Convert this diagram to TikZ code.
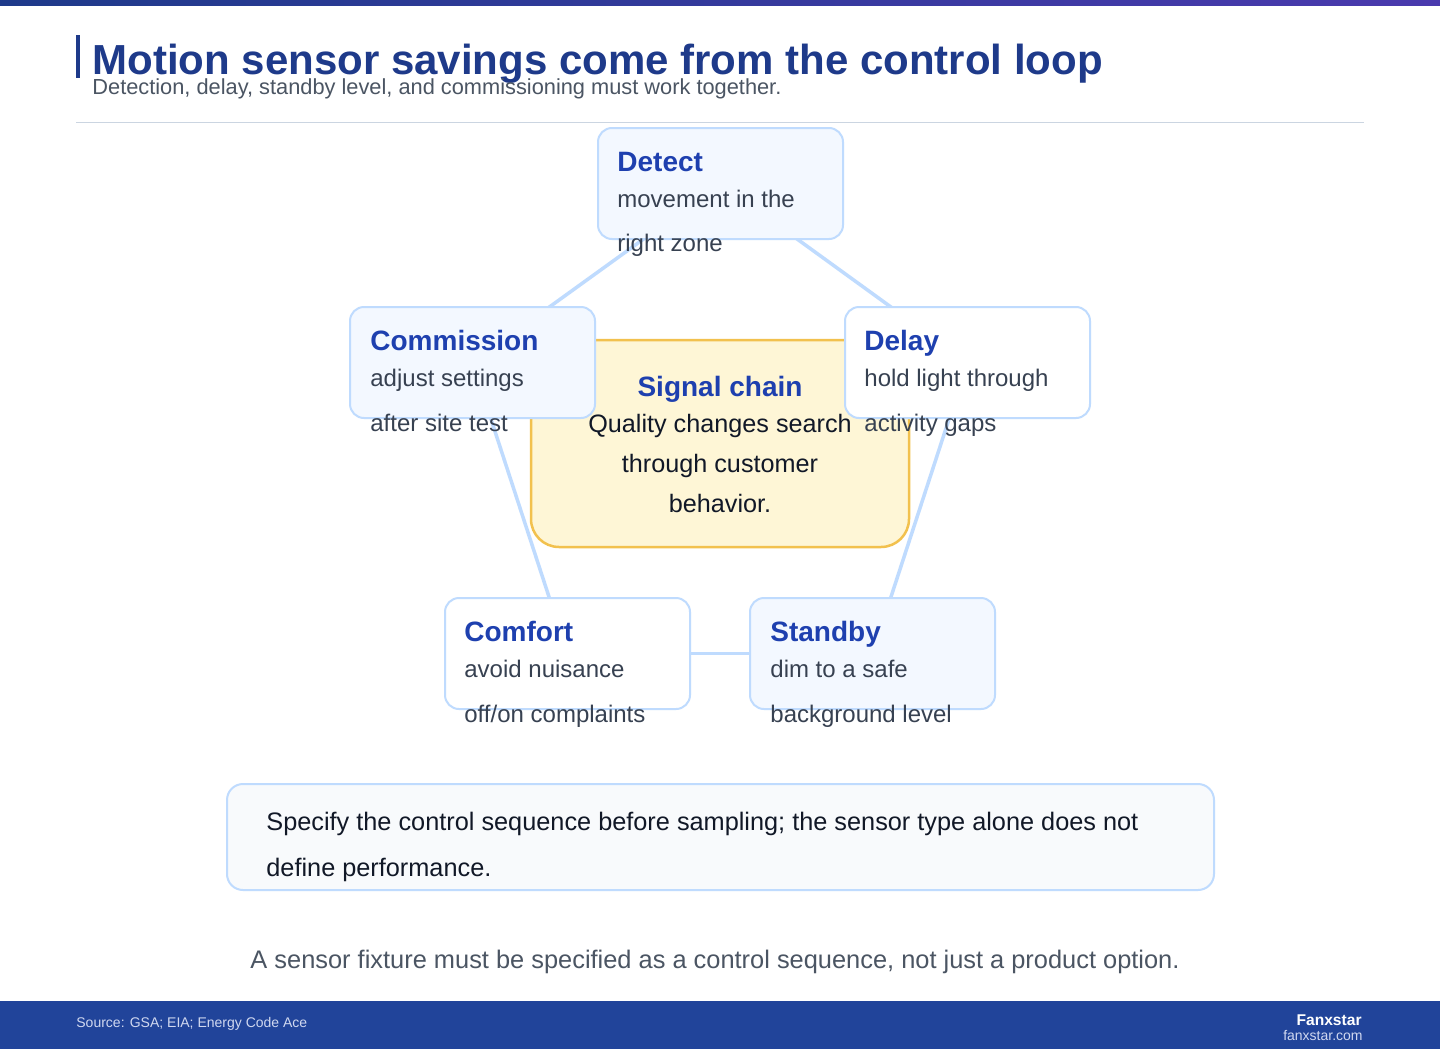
\documentclass[tikz,border=0pt]{standalone}
\usepackage{fontspec}
\setmainfont{Liberation Sans}
\usetikzlibrary{backgrounds}

\definecolor{navy}{HTML}{1E3A8A}
\definecolor{headblue}{HTML}{1E40AF}
\definecolor{bodygray}{HTML}{374151}
\definecolor{inkdark}{HTML}{111827}
\definecolor{edgeblue}{HTML}{BFDBFE}
\definecolor{paleblue}{HTML}{F3F8FF}
\definecolor{paleyellow}{HTML}{FEF6D6}
\definecolor{gold}{HTML}{F2C14E}
\definecolor{rulegray}{HTML}{CBD5E1}
\definecolor{notefill}{HTML}{F8FAFC}
\definecolor{capgray}{HTML}{4B5563}
\definecolor{footblue}{HTML}{21449A}
\definecolor{foottext}{HTML}{D0D8F0}
\definecolor{barend}{HTML}{4A3AAE}

\begin{document}
\begin{tikzpicture}[x=0.5pt,y=-0.5pt,
  stage/.style={draw=edgeblue,line width=1pt,rounded corners=7pt,
    minimum width=122.5pt,minimum height=55.5pt,inner sep=0pt},
  stagehead/.style={anchor=base west,inner sep=0pt,text=headblue,
    font=\fontsize{14}{16}\selectfont\bfseries},
  stagetext/.style={anchor=base west,inner sep=0pt,text=bodygray,
    font=\fontsize{12}{14}\selectfont},
  coretext/.style={anchor=base,inner sep=0pt,text=inkdark,
    font=\fontsize{12.6}{15}\selectfont},
  link/.style={draw=edgeblue,line width=1.75pt}]
\useasboundingbox (0,0) rectangle (1440,1049);
\begin{scope}[on background layer]
\fill[white] (0,0) rectangle (1440,1049);
\end{scope}

% header
\shade[left color=navy,right color=barend] (0,0) rectangle (1440,5);
\fill[navy] (76,35) rectangle (80,78);
\node[anchor=base west,inner sep=0pt,text=navy,font=\fontsize{21}{25}\selectfont\bfseries] (title) at (92,74) {Motion sensor savings come from the control loop};
\node[anchor=base west,inner sep=0pt,text=capgray,font=\fontsize{10.9}{13}\selectfont] (subtitle) at (92,94) {Detection, delay, standby level, and commissioning must work together.};
\draw[rulegray,line width=0.5pt] (76,122) -- (1364,122);

% centre box
\node[draw=gold,fill=paleyellow,line width=1.25pt,rounded corners=14pt,minimum width=189pt,minimum height=103.5pt] (core) at (720,443.5) {};

% loop stages
\node[stage,fill=paleblue] (detect) at (720.5,183.5) {};
\node[stage,fill=paleblue] (commission) at (472.5,362.5) {};
\node[stage,fill=white] (delay) at (967.5,362.5) {};
\node[stage,fill=white] (comfort) at (567.5,653.5) {};
\node[stage,fill=paleblue] (standby) at (872.5,653.5) {};

\begin{scope}[on background layer]
\draw[link] (detect.center) -- (commission.center);
\draw[link] (detect.center) -- (delay.center);
\draw[link] (commission.center) -- (comfort.center);
\draw[link] (delay.center) -- (standby.center);
\draw[link] (comfort.center) -- (standby.center);
\end{scope}

\node[stagehead] (detect-h) at (617,171) {Detect};
\node[stagetext] (detect-a) at (617,207) {movement in the};
\node[stagetext] (detect-b) at (617,251) {right zone};

\node[stagehead] (commission-h) at (370,350) {Commission};
\node[stagetext] (commission-a) at (370,386) {adjust settings};
\node[stagetext] (commission-b) at (370,431) {after site test};

\node[stagehead] (delay-h) at (864,350) {Delay};
\node[stagetext] (delay-a) at (864,386) {hold light through};
\node[stagetext] (delay-b) at (864,431) {activity gaps};

\node[stagehead] (comfort-h) at (464,641) {Comfort};
\node[stagetext] (comfort-a) at (464,677) {avoid nuisance};
\node[stagetext] (comfort-b) at (464,722) {off/on complaints};

\node[stagehead] (standby-h) at (770,641) {Standby};
\node[stagetext] (standby-a) at (770,677) {dim to a safe};
\node[stagetext] (standby-b) at (770,722) {background level};

\node[anchor=base,inner sep=0pt,text=headblue,font=\fontsize{14}{16}\selectfont\bfseries] (core-h) at (720,396) {Signal chain};
\node[coretext] (core-a) at (720,432) {Quality changes search};
\node[coretext] (core-b) at (720,472) {through customer};
\node[coretext] (core-c) at (720,512) {behavior.};

% takeaway
\node[draw=edgeblue,fill=notefill,line width=1pt,rounded corners=8pt,minimum width=493.5pt,minimum height=53pt] (note) at (720.5,837) {};
\node[anchor=base west,inner sep=0pt,text=inkdark,font=\fontsize{12.65}{15}\selectfont] (note-a) at (266,830) {Specify the control sequence before sampling; the sensor type alone does not};
\node[anchor=base west,inner sep=0pt,text=inkdark,font=\fontsize{12.65}{15}\selectfont] (note-b) at (266,876) {define performance.};

\node[anchor=base,inner sep=0pt,text=capgray,font=\fontsize{12.7}{15}\selectfont] (caption) at (715,968) {A sensor fixture must be specified as a control sequence, not just a product option.};

% footer
\fill[footblue] (0,1001) rectangle (1440,1049);
\node[anchor=base west,inner sep=0pt,text=foottext,font=\fontsize{7}{8}\selectfont] (source) at (76,1027) {Source: GSA; EIA; Energy Code Ace};
\node[anchor=base east,inner sep=0pt,text=white,font=\fontsize{7.8}{9}\selectfont\bfseries] (brand) at (1362,1025) {Fanxstar};
\node[anchor=base east,inner sep=0pt,text=foottext,font=\fontsize{7}{8}\selectfont] (site) at (1363,1040) {fanxstar.com};
\end{tikzpicture}
\end{document}
